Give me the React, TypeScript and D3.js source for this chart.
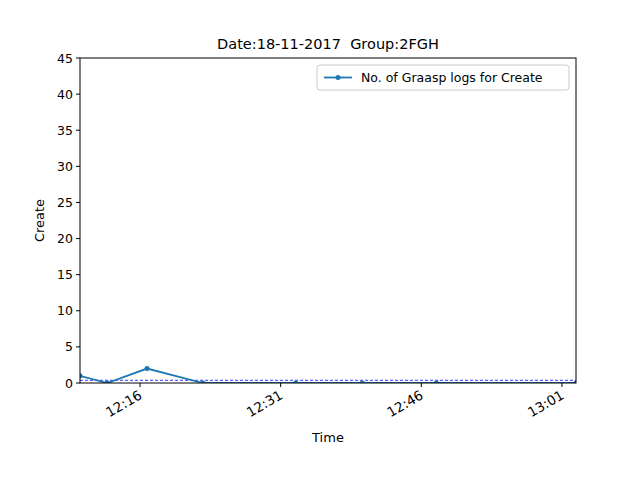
import React from 'react';
import * as d3 from 'd3';

// minutes after 12:00
const times = [9.6, 12.5, 16.75, 22.7, 32.6, 39.7, 47.6, 62.5];
const counts = [1, 0, 2, 0, 0, 0, 0, 0];
const tickMinutes = [16, 31, 46, 61];
const tickLabels = ['12:16', '12:31', '12:46', '13:01'];
const yTicks = [0, 5, 10, 15, 20, 25, 30, 35, 40, 45];

const App: React.FC = () => {
  const W = 640, H = 480;
  const m = { left: 80, right: 64, top: 58, bottom: 97 };
  const x = d3.scaleLinear().domain([9.6, 62.5]).range([m.left, W - m.right]);
  const y = d3.scaleLinear().domain([0, 45]).range([H - m.bottom, m.top]);
  const line = d3.line<number>().x((_, i) => x(times[i])).y(d => y(d));
  const mean = d3.mean(counts) as number;
  const font = 'DejaVu Sans, sans-serif';
  const blue = '#1f77b4';
  return (
    <svg width={W} height={H} style={{ position: 'absolute', left: 0, top: 0, background: '#fff' }} fontFamily={font}>
      <text x={(m.left + W - m.right) / 2} y={49} textAnchor="middle" fontSize={14.5} style={{ whiteSpace: 'pre' }}>Date:18-11-2017  Group:2FGH</text>
      <defs><clipPath id="c"><rect x={m.left} y={m.top} width={W - m.left - m.right} height={H - m.top - m.bottom} /></clipPath></defs>
      <g clipPath="url(#c)">
        <line x1={m.left} x2={W - m.right} y1={y(mean)} y2={y(mean)} stroke="blue" strokeWidth={0.8} strokeDasharray="3,2" />
        <path d={line(counts) || ''} fill="none" stroke={blue} strokeWidth={1.8} />
        {counts.map((c, i) => <circle key={i} cx={x(times[i])} cy={y(c)} r={2.5} fill={blue} />)}
      </g>
      <rect x={m.left} y={m.top} width={W - m.left - m.right} height={H - m.top - m.bottom} fill="none" stroke="#000" strokeWidth={1} />
      {yTicks.map(t => (
        <g key={t}>
          <line x1={m.left - 4} x2={m.left} y1={y(t)} y2={y(t)} stroke="#000" />
          <text x={m.left - 7} y={y(t) + 4.5} textAnchor="end" fontSize={12.5}>{t}</text>
        </g>
      ))}
      {tickMinutes.map((t, i) => (
        <g key={t}>
          <line x1={x(t)} x2={x(t)} y1={H - m.bottom} y2={H - m.bottom + 4} stroke="#000" />
          <text transform={`translate(${x(t) + 3},${H - m.bottom + 15}) rotate(-30)`} textAnchor="end" fontSize={13.5}>{tickLabels[i]}</text>
        </g>
      ))}
      <text x={(m.left + W - m.right) / 2} y={442} textAnchor="middle" fontSize={13}>Time</text>
      <text transform={`translate(44,${(m.top + H - m.bottom) / 2}) rotate(-90)`} textAnchor="middle" fontSize={13}>Create</text>
      <g transform="translate(317,65)">
        <rect width={252} height={25} rx={3} fill="#fff" stroke="#ccc" />
        <line x1={7} x2={35} y1={12.5} y2={12.5} stroke={blue} strokeWidth={1.8} />
        <circle cx={21} cy={12.5} r={2.5} fill={blue} />
        <text x={44} y={17} fontSize={12.5}>No. of Graasp logs for Create</text>
      </g>
    </svg>
  );
};

export default App;
